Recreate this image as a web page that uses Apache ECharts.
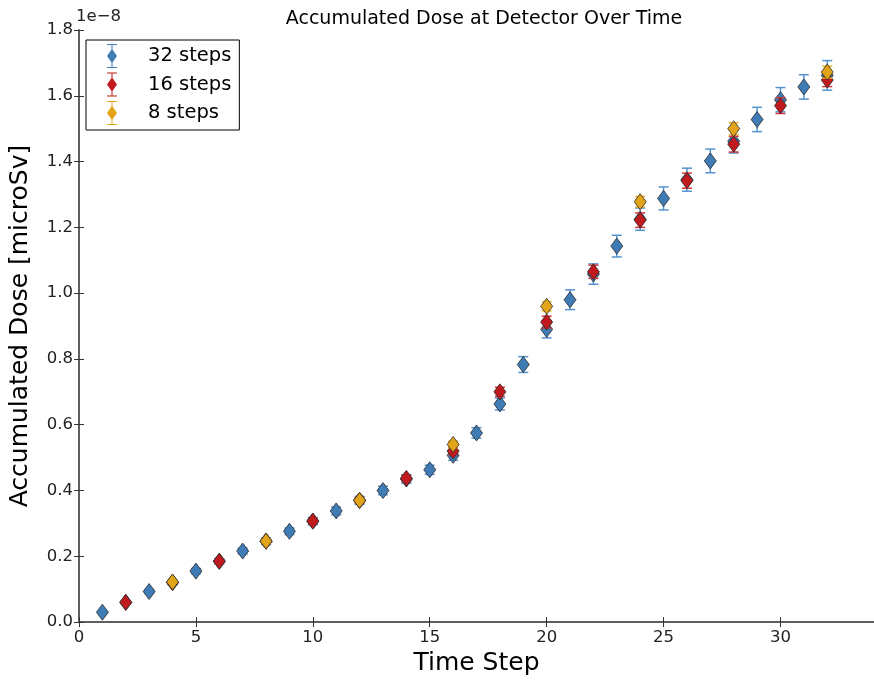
<!DOCTYPE html>
<html>
<head>
<meta charset="utf-8">
<script src="https://cdn.jsdelivr.net/npm/echarts@6/dist/echarts.min.js"></script>
<style>
  html, body { margin: 0; padding: 0; background: #fff; }
  #chart { width: 874px; height: 681px; }
</style>
</head>
<body>
<div id="chart"></div>
<script>
  // dose values are in units of 1e-8 microSv
  var steps32 = [1, 2, 3, 4, 5, 6, 7, 8, 9, 10, 11, 12, 13, 14, 15, 16,
                 17, 18, 19, 20, 21, 22, 23, 24, 25, 26, 27, 28, 29, 30, 31, 32]
  var dose32 = [0.030, 0.060, 0.093, 0.120, 0.155, 0.185, 0.216, 0.246, 0.276, 0.307, 0.338, 0.370, 0.400, 0.435, 0.463, 0.507,
                0.575, 0.663, 0.783, 0.890, 0.980, 1.058, 1.143, 1.225, 1.288, 1.345, 1.402, 1.462, 1.528, 1.588, 1.627, 1.662]
  var err32 = [0.004, 0.005, 0.006, 0.007, 0.008, 0.008, 0.009, 0.010, 0.010, 0.011, 0.012, 0.012, 0.013, 0.013, 0.014, 0.015,
               0.016, 0.018, 0.024, 0.026, 0.030, 0.031, 0.033, 0.034, 0.035, 0.035, 0.036, 0.036, 0.037, 0.037, 0.037, 0.045]

  var steps16 = [2, 4, 6, 8, 10, 12, 14, 16, 18, 20, 22, 24, 26, 28, 30, 32]
  var dose16 = [0.060, 0.121, 0.185, 0.246, 0.307, 0.370, 0.437, 0.520, 0.700, 0.912, 1.065, 1.222, 1.342, 1.453, 1.570, 1.648]
  var err16 = [0.004, 0.005, 0.006, 0.007, 0.008, 0.009, 0.010, 0.011, 0.014, 0.018, 0.020, 0.022, 0.023, 0.024, 0.024, 0.020]

  var steps8 = [4, 8, 12, 16, 20, 24, 28, 32]
  var dose8 = [0.122, 0.246, 0.370, 0.540, 0.960, 1.278, 1.500, 1.672]
  var err8 = [0.004, 0.006, 0.007, 0.010, 0.014, 0.016, 0.018, 0.018]

  var yTicks = [0, 0.2, 0.4, 0.6, 0.8, 1.0, 1.2, 1.4, 1.6, 1.8]

  var font = 'DejaVu Sans'
  var legendIcon = 'path://M1,0L11,0L11,1L6.5,1L6.5,5.5L11,12L6.5,18.5L6.5,23L11,23L11,24L1,24L1,23L5.5,23L5.5,18.5L1,12L5.5,5.5L5.5,1L1,1Z'

  function points(xs, ys) {
    return xs.map(function (x, i) { return [x, ys[i]] })
  }
  function bars(xs, ys, es) {
    return xs.map(function (x, i) { return [x, ys[i] - es[i], ys[i] + es[i]] })
  }
  function errorBar(color) {
    return function (params, api) {
      var lo = api.coord([api.value(0), api.value(1)])
      var hi = api.coord([api.value(0), api.value(2)])
      var style = { stroke: color, lineWidth: 1.5 }
      return {
        type: 'group',
        children: [
          { type: 'line', shape: { x1: lo[0], y1: lo[1], x2: hi[0], y2: hi[1] }, style: style },
          { type: 'line', shape: { x1: lo[0] - 5, y1: lo[1], x2: lo[0] + 5, y2: lo[1] }, style: style },
          { type: 'line', shape: { x1: hi[0] - 5, y1: hi[1], x2: hi[0] + 5, y2: hi[1] }, style: style }
        ]
      }
    }
  }

  var runs = [
    { name: '32 steps', xs: steps32, ys: dose32, es: err32, color: '#3f7cb6', errColor: '#5593cf' },
    { name: '16 steps', xs: steps16, ys: dose16, es: err16, color: '#c01a1f', errColor: '#d6383d' },
    { name: '8 steps', xs: steps8, ys: dose8, es: err8, color: '#e2a419', errColor: '#efb32a' }
  ]

  var series = []
  runs.forEach(function (r, k) {
    series.push({
      name: r.name + ' err',
      type: 'custom',
      renderItem: errorBar(r.errColor),
      data: bars(r.xs, r.ys, r.es),
      encode: { x: 0, y: [1, 2] },
      z: 2 + k * 2,
      silent: true
    })
    series.push({
      name: r.name,
      type: 'scatter',
      symbol: 'diamond',
      symbolSize: [12, 16],
      data: points(r.xs, r.ys),
      itemStyle: { color: r.color, borderColor: '#2a2a2a', borderWidth: 0.8, opacity: 1 },
      z: 3 + k * 2
    })
  })

  var axisLine = { show: true, lineStyle: { color: '#555', width: 1.5 } }
  var axisTick = { show: true, inside: true, length: 5, lineStyle: { color: '#333' } }

  var chart = echarts.init(document.getElementById('chart'))
  chart.setOption({
    animation: false,
    title: {
      text: 'Accumulated Dose at Detector Over Time',
      left: 479,
      textAlign: 'center',
      top: 5,
      textStyle: { fontFamily: font, fontSize: 19, fontWeight: 'normal', color: '#000' }
    },
    graphic: [{
      type: 'text',
      left: 76,
      top: 8,
      style: { text: '1e\u22128', fontFamily: font, fontSize: 16.5, fill: '#222' }
    }],
    legend: {
      data: runs.map(function (r) { return { name: r.name, icon: legendIcon } }),
      orient: 'vertical',
      left: 86,
      top: 40,
      itemWidth: 12,
      itemHeight: 24,
      itemGap: 4.5,
      padding: [4, 8, 5, 21],
      borderColor: '#000',
      borderWidth: 1,
      borderRadius: 0,
      itemStyle: { borderWidth: 0 },
      textStyle: { fontFamily: font, fontSize: 19.5, color: '#000', padding: [0, 0, 0, 25] }
    },
    grid: { left: 76, top: 30, right: -8, bottom: 51, containLabel: false },
    xAxis: [{
      type: 'value',
      min: 0,
      max: 34,
      interval: 5,
      name: 'Time Step',
      nameLocation: 'middle',
      nameGap: 25,
      nameTextStyle: { fontFamily: font, fontSize: 25, color: '#000' },
      axisLine: axisLine,
      axisTick: axisTick,
      splitLine: { show: false },
      axisLabel: { fontFamily: font, fontSize: 16.5, color: '#222', margin: 7, showMaxLabel: false }
    }, {
      type: 'value',
      position: 'top',
      min: 0,
      max: 34,
      interval: 5,
      axisLine: axisLine,
      axisTick: axisTick,
      splitLine: { show: false },
      axisLabel: { show: false }
    }],
    yAxis: [{
      type: 'value',
      min: yTicks[0],
      max: yTicks[yTicks.length - 1],
      interval: 0.2,
      name: 'Accumulated Dose [microSv]',
      nameLocation: 'middle',
      nameGap: 46,
      nameTextStyle: { fontFamily: font, fontSize: 25, color: '#000' },
      axisLine: axisLine,
      axisTick: axisTick,
      splitLine: { show: false },
      axisLabel: {
        fontFamily: font, fontSize: 16.5, color: '#222', margin: 6,
        formatter: function (v) { return v.toFixed(1) }
      }
    }, {
      type: 'value',
      position: 'right',
      min: yTicks[0],
      max: yTicks[yTicks.length - 1],
      interval: 0.2,
      axisLine: axisLine,
      axisTick: axisTick,
      splitLine: { show: false },
      axisLabel: { show: false }
    }],
    series: series
  })
</script>
</body>
</html>
